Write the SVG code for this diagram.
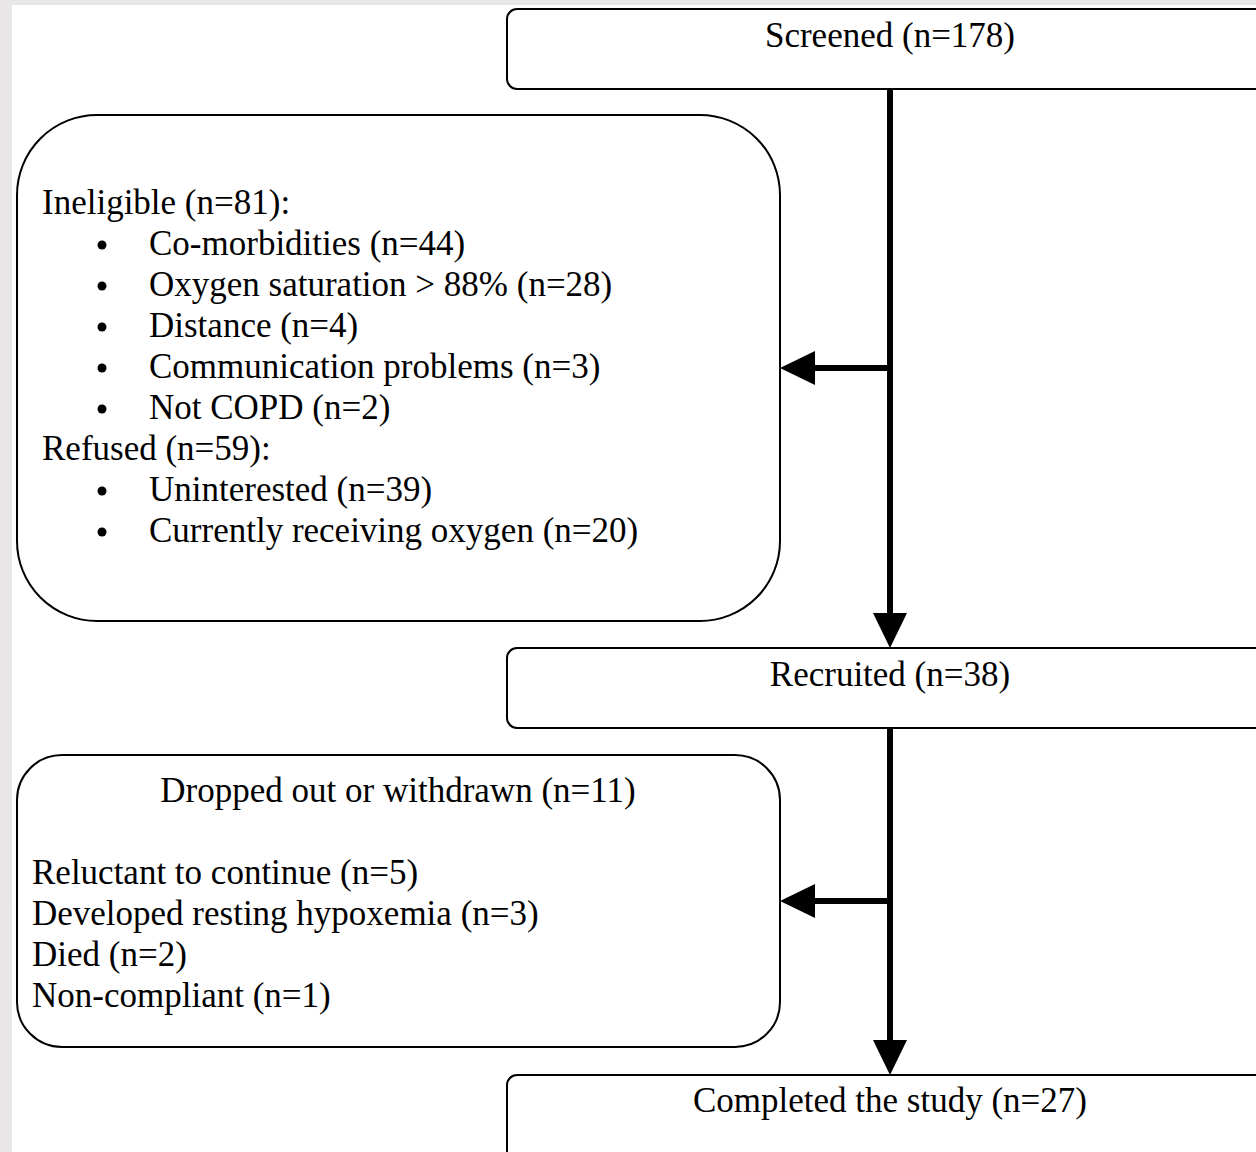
<svg xmlns="http://www.w3.org/2000/svg" width="1256" height="1152" viewBox="0 0 1256 1152">
<style>
.box{fill:#fff;stroke:#000;stroke-width:2}
.t{font-family:"Liberation Serif","Times New Roman",serif;font-size:35px;fill:#000}
.c{text-anchor:middle}
.conn{stroke:#000;stroke-width:6;fill:none}
.head{fill:#000}
</style>
<rect x="0" y="0" width="1256" height="1152" fill="#e8e6e6"/>
<rect x="12" y="5" width="1244" height="1147" fill="#fff"/>
<g id="screened">
<rect class="box" x="507" y="9" width="770" height="80" rx="10"/>
<text class="t c" x="890" y="47">Screened (n=178)</text>
</g>
<g id="excluded">
<rect class="box" x="17" y="115" width="763" height="506" rx="80"/>
<text class="t" x="42" y="214">Ineligible (n=81):</text>
<g fill="#000">
<circle cx="102" cy="245" r="4.5"/>
<circle cx="102" cy="286" r="4.5"/>
<circle cx="102" cy="327" r="4.5"/>
<circle cx="102" cy="368" r="4.5"/>
<circle cx="102" cy="409" r="4.5"/>
<circle cx="102" cy="491" r="4.5"/>
<circle cx="102" cy="532" r="4.5"/>
</g>
<text class="t" x="149" y="255">Co-morbidities (n=44)</text>
<text class="t" x="149" y="296">Oxygen saturation &gt; 88% (n=28)</text>
<text class="t" x="149" y="337">Distance (n=4)</text>
<text class="t" x="149" y="378">Communication problems (n=3)</text>
<text class="t" x="149" y="419">Not COPD (n=2)</text>
<text class="t" x="42" y="460">Refused (n=59):</text>
<text class="t" x="149" y="501">Uninterested (n=39)</text>
<text class="t" x="149" y="542">Currently receiving oxygen (n=20)</text>
</g>
<g id="recruited">
<rect class="box" x="507" y="648" width="770" height="80" rx="10"/>
<text class="t c" x="890" y="686">Recruited (n=38)</text>
</g>
<g id="dropped">
<rect class="box" x="17" y="755" width="763" height="292" rx="45"/>
<text class="t c" x="398" y="802">Dropped out or withdrawn (n=11)</text>
<text class="t" x="32" y="884">Reluctant to continue (n=5)</text>
<text class="t" x="32" y="925">Developed resting hypoxemia (n=3)</text>
<text class="t" x="32" y="966">Died (n=2)</text>
<text class="t" x="32" y="1007">Non-compliant (n=1)</text>
</g>
<g id="completed">
<rect class="box" x="507" y="1075" width="770" height="90" rx="10"/>
<text class="t c" x="890" y="1112">Completed the study (n=27)</text>
</g>
<g id="connectors">
<line class="conn" x1="890" y1="89" x2="890" y2="616"/>
<polygon class="head" points="873,613 907,613 890,648"/>
<line class="conn" x1="893" y1="368" x2="812" y2="368"/>
<polygon class="head" points="815,351 815,385 780,368"/>
<line class="conn" x1="890" y1="728" x2="890" y2="1043"/>
<polygon class="head" points="873,1040 907,1040 890,1075"/>
<line class="conn" x1="893" y1="901" x2="812" y2="901"/>
<polygon class="head" points="815,884 815,918 780,901"/>
</g>
</svg>
